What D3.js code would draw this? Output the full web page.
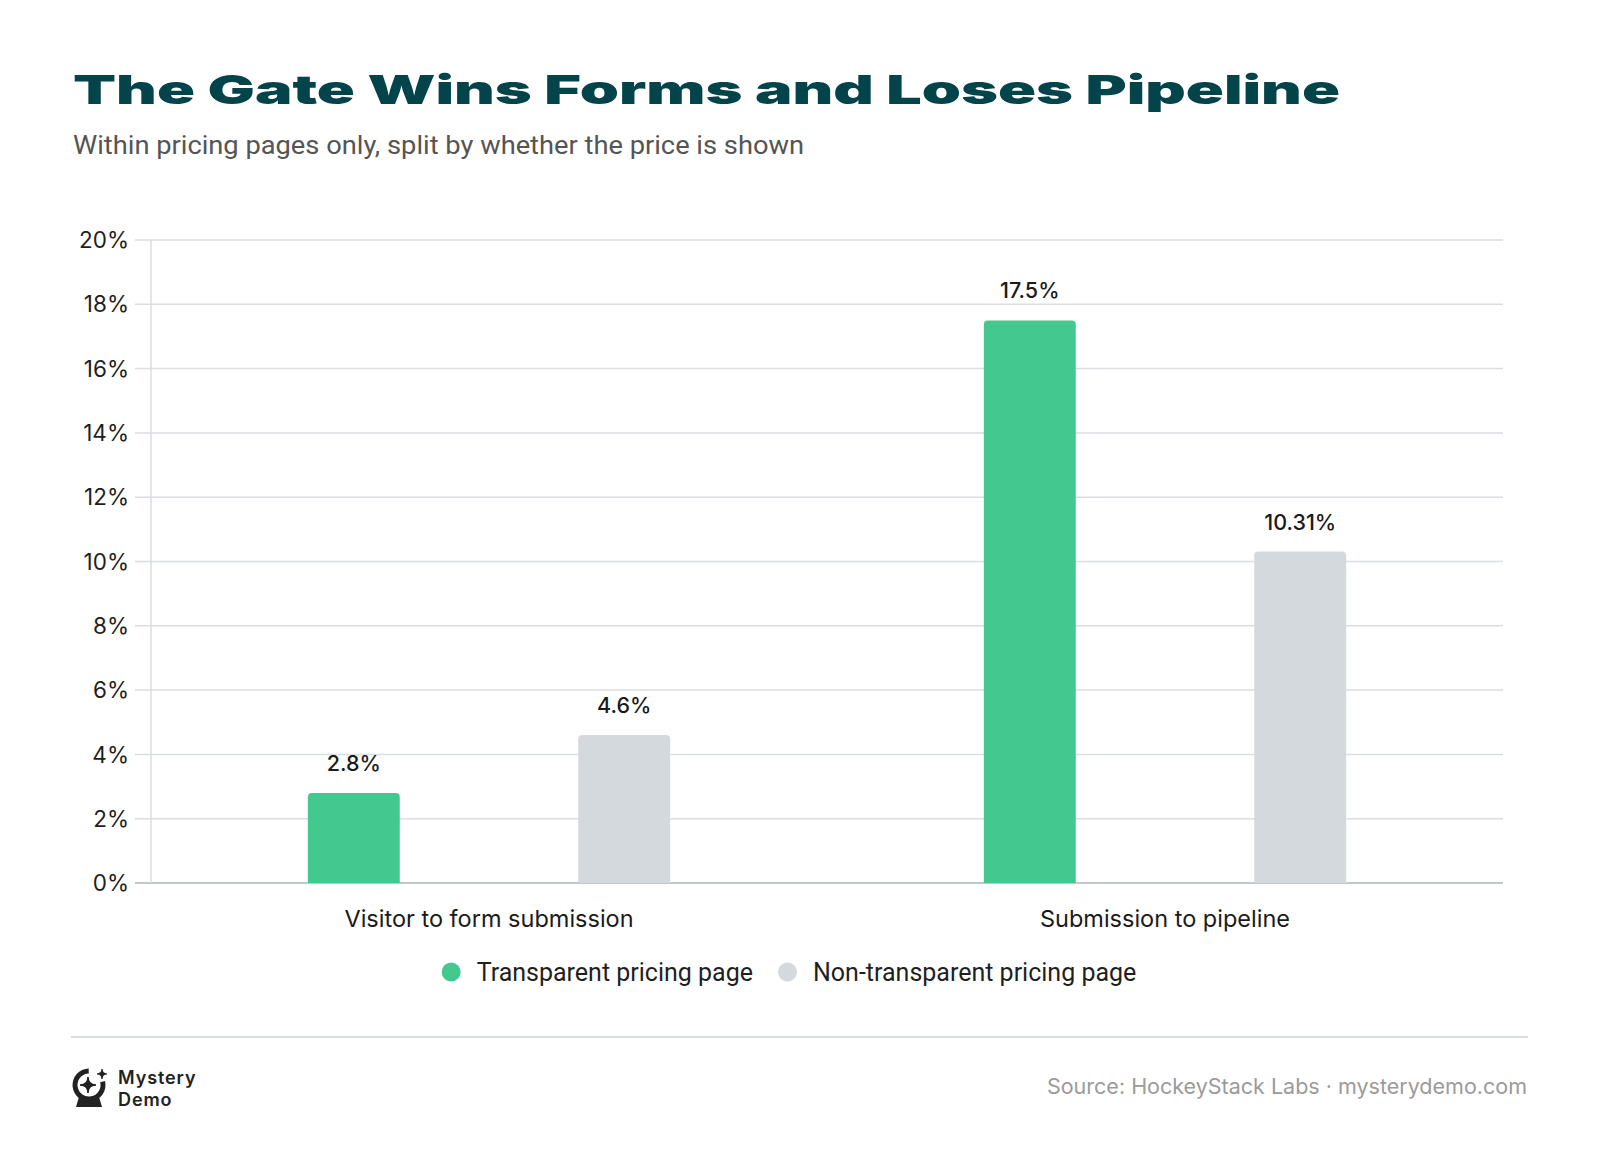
<!DOCTYPE html>
<html>
<head>
<meta charset="utf-8">
<script src="https://cdn.jsdelivr.net/npm/d3@7"></script>
<style>
  body { margin: 0; background: #fff; }
  svg { display: block; }
</style>
</head>
<body>
<svg id="chart" width="1600" height="1162"></svg>
<script>
// data
const categories = ["Visitor to form submission", "Submission to pipeline"];
const seriesNames = ["Transparent pricing page", "Non-transparent pricing page"];
const transparent = [2.8, 17.5];
const nonTransparent = [4.6, 10.31];
const valueLabels = [["2.8%", "17.5%"], ["4.6%", "10.31%"]];
const yTicks = [0, 2, 4, 6, 8, 10, 12, 14, 16, 18, 20];

const colors = ["#43c890", "#d4d9dd"];
const seriesValues = [transparent, nonTransparent];

const svg = d3.select("#chart");
const plot = {left: 151, right: 1503, top: 240, bottom: 883};

svg.append("rect").attr("width", 1600).attr("height", 1162).attr("fill", "#fff");

// title + subtitle
svg.append("text")
  .attr("x", 73).attr("y", 104)
  .attr("textLength", 1267).attr("lengthAdjust", "spacingAndGlyphs")
  .style("font-family", "Inter").style("font-weight", 900).style("font-size", "40px")
  .attr("fill", "#03434a")
  .text("The Gate Wins Forms and Loses Pipeline");

svg.append("text")
  .attr("x", 73).attr("y", 154)
  .attr("textLength", 731).attr("lengthAdjust", "spacingAndGlyphs")
  .style("font-family", "Roboto").style("font-size", "26px")
  .attr("fill", "#555")
  .text("Within pricing pages only, split by whether the price is shown");

// scales
const y = d3.scaleLinear().domain([0, 20]).range([plot.bottom, plot.top]);
const x0 = d3.scaleBand().domain(categories).range([plot.left, plot.right]).padding(0);
const x1 = d3.scaleBand().domain(seriesNames).range([0, x0.bandwidth()])
  .paddingInner(0.66).paddingOuter(0.58);

// grid
const grid = svg.append("g");
grid.selectAll("line")
  .data(yTicks)
  .join("line")
  .attr("x1", 135).attr("x2", plot.right)
  .attr("y1", d => y(d)).attr("y2", d => y(d))
  .attr("stroke", d => d === 0 ? "#c3c7cb" : "#dadde1")
  .attr("stroke-width", d => d === 0 ? 2 : 1.5);

grid.append("line")
  .attr("x1", plot.left).attr("x2", plot.left)
  .attr("y1", plot.top).attr("y2", plot.bottom)
  .attr("stroke", "#dadde1").attr("stroke-width", 1.5);

// y axis labels
svg.append("g").selectAll("text")
  .data(yTicks)
  .join("text")
  .attr("x", 129).attr("y", d => y(d))
  .attr("dy", "0.36em")
  .attr("text-anchor", "end")
  .style("font-family", "Inter").style("font-size", "22.5px")
  .attr("fill", "#1f1f1f")
  .text(d => d + "%");

// bars
function topRounded(x, yTop, w, h, r) {
  r = Math.min(r, h, w / 2);
  return `M${x},${yTop + h}V${yTop + r}Q${x},${yTop} ${x + r},${yTop}H${x + w - r}Q${x + w},${yTop} ${x + w},${yTop + r}V${yTop + h}Z`;
}

const barData = [];
seriesNames.forEach((s, si) => {
  categories.forEach((c, ci) => {
    barData.push({cat: c, series: s, si, value: seriesValues[si][ci], label: valueLabels[si][ci]});
  });
});

const groups = svg.append("g");
groups.selectAll("path")
  .data(barData)
  .join("path")
  .attr("d", d => topRounded(x0(d.cat) + x1(d.series), y(d.value), x1.bandwidth(), y(0) - y(d.value), 4))
  .attr("fill", d => colors[d.si]);

groups.selectAll("text")
  .data(barData)
  .join("text")
  .attr("x", d => x0(d.cat) + x1(d.series) + x1.bandwidth() / 2)
  .attr("y", d => y(d.value) - 22)
  .attr("text-anchor", "middle")
  .style("font-family", "Inter").style("font-weight", 500).style("font-size", "21.5px")
  .attr("fill", "#1a1a1a")
  .text(d => d.label);

// category labels
svg.append("g").selectAll("text")
  .data(categories)
  .join("text")
  .attr("x", d => x0(d) + x0.bandwidth() / 2)
  .attr("y", 927)
  .attr("text-anchor", "middle")
  .style("font-family", "Inter").style("font-size", "23.5px")
  .attr("fill", "#1a1a1a")
  .text(d => d);

// legend
const legend = svg.append("g");
const items = legend.selectAll("g")
  .data(seriesNames)
  .join("g");
items.append("circle").attr("r", 9.5).attr("cx", 9.5).attr("cy", 0)
  .attr("fill", (d, i) => colors[i]);
items.append("text")
  .attr("x", 35).attr("y", 0).attr("dy", "0.35em")
  .style("font-family", "Roboto").style("font-size", "25px")
  .attr("fill", "#1f1f1f")
  .text(d => d);
let lx = 0;
const widths = [];
items.each(function() {
  const w = 35 + this.querySelector("text").getComputedTextLength();
  widths.push(w);
});
const totalW = d3.sum(widths) + 25 * (widths.length - 1);
lx = 789 - totalW / 2;
items.each(function(d, i) {
  d3.select(this).attr("transform", `translate(${lx},972)`);
  lx += widths[i] + 25;
});

// footer
svg.append("line")
  .attr("x1", 71).attr("x2", 1528).attr("y1", 1037).attr("y2", 1037)
  .attr("stroke", "#dadde1").attr("stroke-width", 2);

svg.append("text")
  .attr("x", 1527).attr("y", 1094)
  .attr("text-anchor", "end")
  .style("font-family", "Inter").style("font-size", "21.5px")
  .attr("fill", "#9b9b9b")
  .text("Source: HockeyStack Labs \u00b7 mysterydemo.com");

// logo
const logo = svg.append("g").attr("transform", "translate(89,1085)");
const ring = d3.arc().innerRadius(11.5).outerRadius(16.5)
  .startAngle(Math.PI * 0.42).endAngle(Math.PI * 2 - 0.02);
logo.append("path").attr("d", ring()).attr("fill", "#222");
logo.append("path")
  .attr("d", "M-10,12 L10,12 L13,22 L-13,22 Z")
  .attr("fill", "#222");
const star = (cx, cy, s) => `M${cx},${cy - s}Q${cx},${cy} ${cx + s},${cy}Q${cx},${cy} ${cx},${cy + s}Q${cx},${cy} ${cx - s},${cy}Q${cx},${cy} ${cx},${cy - s}Z`;
logo.append("path").attr("d", star(-1, 0, 8)).attr("fill", "#222").attr("stroke", "#222").attr("stroke-width", 1.5);
logo.append("path").attr("d", star(13, -11, 5)).attr("fill", "#222").attr("stroke", "#222").attr("stroke-width", 1.2);

svg.append("text").attr("x", 118).attr("y", 1084)
  .style("font-family", "Inter").style("font-weight", 600).style("font-size", "18px")
  .style("letter-spacing", "0.9px")
  .attr("fill", "#222").text("Mystery");
svg.append("text").attr("x", 118).attr("y", 1106)
  .style("font-family", "Inter").style("font-weight", 600).style("font-size", "18px")
  .style("letter-spacing", "0.9px")
  .attr("fill", "#222").text("Demo");
</script>
</body>
</html>
